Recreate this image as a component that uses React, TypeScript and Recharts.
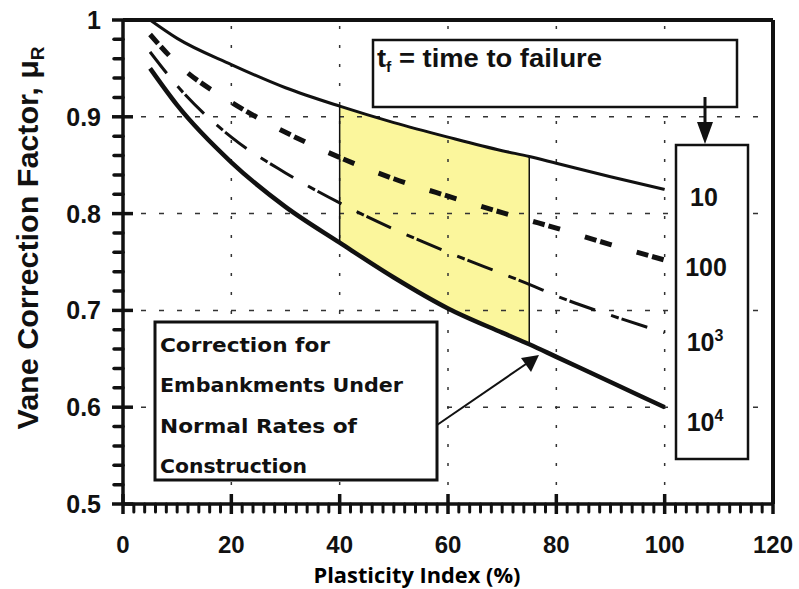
import { ComposedChart, Line, Area, XAxis, YAxis, ReferenceLine } from "recharts";

const plasticityIndex = [5, 10, 20, 30, 40, 50, 60, 70, 75, 80, 90, 100];

// vane correction factor for each time to failure
const muTf10 = [1.0, 0.981, 0.954, 0.93, 0.911, 0.894, 0.879, 0.865, 0.859, 0.852, 0.838, 0.825];
const muTf100 = [0.985, 0.955, 0.915, 0.884, 0.858, 0.836, 0.818, 0.801, 0.793, 0.785, 0.768, 0.752];
const muTf1000 = [0.967, 0.932, 0.879, 0.842, 0.811, 0.784, 0.76, 0.738, 0.727, 0.715, 0.695, 0.677];
const muTf10000 = [0.95, 0.912, 0.853, 0.807, 0.77, 0.734, 0.702, 0.677, 0.665, 0.652, 0.626, 0.6];

// embankment band (normal rates of construction)
const bandFrom = 40;
const bandTo = 75;

const xMajorTicks = [0, 20, 40, 60, 80, 100, 120];
const xTickLabels = ["0", "20", "40", "60", "80", "100", "120"];
const yMajorTicks = [0.5, 0.6, 0.7, 0.8, 0.9, 1];
const yTickLabels = ["0.5", "0.6", "0.7", "0.8", "0.9", "1"];
const xMinorStep = 2;
const yMinorStep = 0.02;

const xMinorTicks = Array.from({ length: 120 / xMinorStep + 1 }, (_, i) => i * xMinorStep);
const yMinorTicks = Array.from({ length: Math.round(0.5 / yMinorStep) + 1 }, (_, i) =>
  Number((0.5 + i * yMinorStep).toFixed(2))
);

const data = plasticityIndex.map((pi, i) => ({
  pi,
  tf10: muTf10[i],
  tf100: muTf100[i],
  tf1000: muTf1000[i],
  tf10000: muTf10000[i],
  band: pi >= bandFrom && pi <= bandTo ? [muTf10000[i], muTf10[i]] : null,
}));

const iFrom = plasticityIndex.indexOf(bandFrom);
const iTo = plasticityIndex.indexOf(bandTo);

const FONT = "'Liberation Sans', Arial, sans-serif";
const INK = "#111";

// x tick: minor bump below the axis, major crosses it, label for majors
const XTick = (props: any) => {
  const { x, y, payload } = props;
  const xv = Number(x);
  const yv = Number(y);
  const idx = xMajorTicks.indexOf(payload.value);
  if (idx < 0) {
    return <path d={`M${xv},${yv} L${xv},${yv + 8}`} stroke={INK} strokeWidth={3} strokeLinecap="round" fill="none" />;
  }
  return (
    <g>
      <path d={`M${xv},${yv - 10} L${xv},${yv + 10}`} stroke={INK} strokeWidth={3.5} fill="none" />
      <text x={xv} y={yv + 49} textAnchor="middle" fontFamily={FONT} fontWeight="bold" fontSize={24} fill={INK}>
        {xTickLabels[idx]}
      </text>
    </g>
  );
};

const YTick = (props: any) => {
  const { x, y, payload } = props;
  const xv = Number(x);
  const yv = Number(y);
  const idx = yMajorTicks.findIndex((v) => Math.abs(v - payload.value) < 1e-6);
  if (idx < 0) {
    return <path d={`M${xv - 9},${yv} L${xv},${yv}`} stroke={INK} strokeWidth={3.5} strokeLinecap="round" fill="none" />;
  }
  return (
    <g>
      <path d={`M${xv - 11},${yv} L${xv + 10},${yv}`} stroke={INK} strokeWidth={3.5} fill="none" />
      <text x={xv - 22} y={yv + 9} textAnchor="end" fontFamily={FONT} fontWeight="bold" fontSize={25} fill={INK}>
        {yTickLabels[idx]}
      </text>
    </g>
  );
};

const Annotations = () => (
  <svg
    width={799}
    height={589}
    style={{ position: "absolute", left: 0, top: 0, pointerEvents: "none" }}
  >
    {/* axis titles */}
    <text
      transform="translate(28,238) rotate(-90)"
      y={10}
      textAnchor="middle"
      fontFamily={FONT}
      fontWeight="bold"
      fontSize={29}
      fill={INK}
      textLength={383}
      lengthAdjust="spacingAndGlyphs"
    >
      Vane Correction Factor, μ
      <tspan fontSize={18} dy={6}>R</tspan>
    </text>
    <text
      x={417}
      y={583}
      textAnchor="middle"
      fontFamily="'Open Sans', 'Noto Sans', sans-serif"
      fontWeight="bold"
      fontSize={21}
      fill="#000"
      textLength={207}
      lengthAdjust="spacingAndGlyphs"
    >
      Plasticity Index (%)
    </text>

    {/* time to failure box */}
    <rect x={373} y={40} width={364} height={67} fill="#fff" stroke={INK} strokeWidth={2.5} />
    <text
      x={377}
      y={67}
      fontFamily={FONT}
      fontWeight="bold"
      fontSize={26}
      fill={INK}
      textLength={225}
      lengthAdjust="spacingAndGlyphs"
    >
      t<tspan fontSize={15} dy={5}>f</tspan>
      <tspan dy={-5}> = time to failure</tspan>
    </text>
    <line x1={705} x2={705} y1={97} y2={128} stroke={INK} strokeWidth={3} />
    <polygon points="697,122 713,122 705,144" fill={INK} />

    {/* curve labels */}
    <rect x={676} y={145} width={72} height={314} fill="#fff" stroke={INK} strokeWidth={2.5} />
    <g fontFamily={FONT} fontWeight="bold" fontSize={25} fill={INK} textAnchor="middle">
      <text x={704} y={206}>10</text>
      <text x={706} y={276}>100</text>
      <text x={705} y={351}>
        10<tspan fontSize={16} dy={-10}>3</tspan>
      </text>
      <text x={705} y={431}>
        10<tspan fontSize={16} dy={-10}>4</tspan>
      </text>
    </g>

    {/* embankment note */}
    <rect x={155} y={322} width={282} height={158} fill="#fff" stroke={INK} strokeWidth={3} />
    <g fontFamily="'DejaVu Sans', sans-serif" fontWeight="bold" fontSize={20} fill={INK}>
      <text x={160} y={352} textLength={170} lengthAdjust="spacingAndGlyphs">Correction for</text>
      <text x={160} y={392} textLength={243} lengthAdjust="spacingAndGlyphs">Embankments Under</text>
      <text x={160} y={433} textLength={197} lengthAdjust="spacingAndGlyphs">Normal Rates of</text>
      <text x={160} y={473} textLength={147} lengthAdjust="spacingAndGlyphs">Construction</text>
    </g>
    <line x1={437} y1={425} x2={526} y2={364} stroke={INK} strokeWidth={2} />
    <polygon points="539,355 531,372 521,358" fill={INK} />
  </svg>
);

export default function App() {
  return (
    <div style={{ position: "absolute", left: 0, top: 0, width: 799, height: 589, background: "#fff" }}>
      <ComposedChart
        width={799}
        height={589}
        data={data}
        margin={{ top: 20, right: 26, bottom: 0, left: 0 }}
      >
        <XAxis
          dataKey="pi"
          type="number"
          domain={[0, 120]}
          ticks={xMinorTicks}
          interval={0}
          tickSize={0}
          tickMargin={0}
          tick={<XTick />}
          axisLine={{ stroke: INK, strokeWidth: 3.5 }}
          tickLine={false}
          height={85}
        />
        <YAxis
          type="number"
          domain={[0.5, 1]}
          ticks={yMinorTicks}
          interval={0}
          tickSize={0}
          tickMargin={0}
          tick={<YTick />}
          axisLine={{ stroke: INK, strokeWidth: 3.5 }}
          tickLine={false}
          width={123}
        />

        {yMajorTicks.slice(1, -1).map((v) => (
          <ReferenceLine key={"gy" + v} y={v} stroke="#333" strokeWidth={1.5} strokeDasharray="5 13" />
        ))}
        {xMajorTicks.slice(1, -1).map((v) => (
          <ReferenceLine key={"gx" + v} x={v} stroke="#333" strokeWidth={1.5} strokeDasharray="3 16" />
        ))}

        <Area
          dataKey="band"
          type="monotone"
          fill="#fbf69c"
          fillOpacity={1}
          stroke="none"
          isAnimationActive={false}
        />
        <ReferenceLine
          segment={[
            { x: bandFrom, y: muTf10000[iFrom] },
            { x: bandFrom, y: muTf10[iFrom] },
          ]}
          stroke={INK}
          strokeWidth={1.5}
        />
        <ReferenceLine
          segment={[
            { x: bandTo, y: muTf10000[iTo] },
            { x: bandTo, y: muTf10[iTo] },
          ]}
          stroke={INK}
          strokeWidth={1.5}
        />

        <Line dataKey="tf10" type="monotone" stroke={INK} strokeWidth={3} dot={false} isAnimationActive={false} />
        <Line
          dataKey="tf100"
          type="monotone"
          stroke={INK}
          strokeWidth={5}
          strokeDasharray="12 4 12 26"
          dot={false}
          isAnimationActive={false}
        />
        <Line
          dataKey="tf1000"
          type="monotone"
          stroke={INK}
          strokeWidth={3}
          strokeDasharray="27 17 8 3"
          dot={false}
          isAnimationActive={false}
        />
        <Line dataKey="tf10000" type="monotone" stroke={INK} strokeWidth={4.5} dot={false} isAnimationActive={false} />

        {/* frame */}
        <ReferenceLine y={1} stroke={INK} strokeWidth={4} />
        <ReferenceLine x={120} stroke={INK} strokeWidth={4} />
      </ComposedChart>
      <Annotations />
    </div>
  );
}
